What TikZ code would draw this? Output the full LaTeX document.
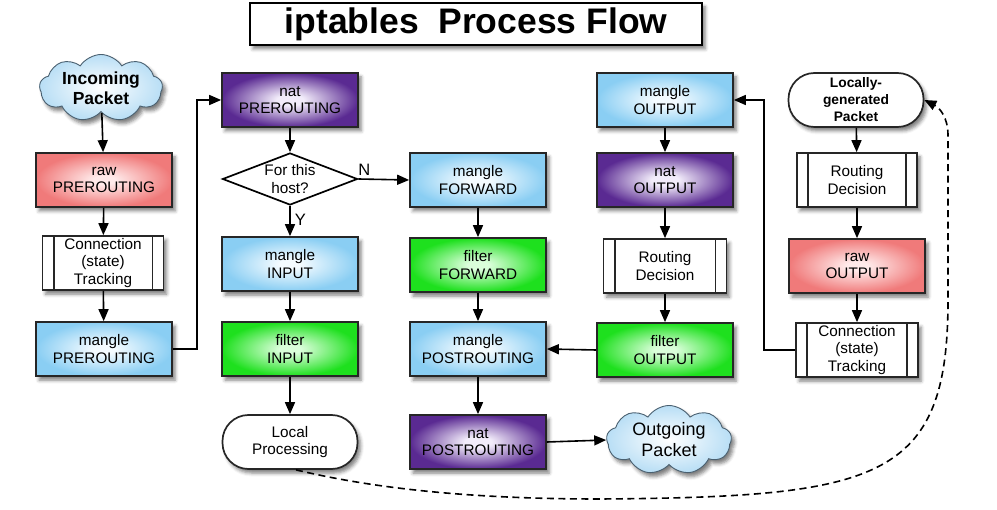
\documentclass[tikz,border=0pt]{standalone}
\usepackage{fontspec}
\setmainfont{Liberation Sans}
\usetikzlibrary{arrows.meta,shapes.geometric,shapes.symbols,shadows.blur,calc}

% chain colours: saturated rim, pale centre
\definecolor{rawedge}{HTML}{F07A7A}
\definecolor{rawmid}{HTML}{FFEAEA}
\definecolor{mangleedge}{HTML}{8ACEF3}
\definecolor{manglemid}{HTML}{F4FBFF}
\definecolor{filteredge}{HTML}{1EE01E}
\definecolor{filtermid}{HTML}{DAFEDA}
\definecolor{natedge}{HTML}{5A2A92}
\definecolor{natmid}{HTML}{F2ECFA}
\definecolor{cloudedge}{HTML}{B8DEF5}
\definecolor{cloudline}{HTML}{4A6070}

% radial glow with a pale plateau in the middle
\pgfdeclareradialshading{natglow}{\pgfpoint{0bp}{0bp}}{color(0bp)=(natmid); color(5bp)=(natmid); color(25bp)=(natedge); color(50bp)=(natedge)}
\pgfdeclareradialshading{rawglow}{\pgfpoint{0bp}{0bp}}{color(0bp)=(rawmid); color(4bp)=(rawmid); color(25bp)=(rawedge); color(50bp)=(rawedge)}
\pgfdeclareradialshading{mangleglow}{\pgfpoint{0bp}{0bp}}{color(0bp)=(manglemid); color(4bp)=(manglemid); color(25bp)=(mangleedge); color(50bp)=(mangleedge)}
\pgfdeclareradialshading{filterglow}{\pgfpoint{0bp}{0bp}}{color(0bp)=(filtermid); color(4bp)=(filtermid); color(25bp)=(filteredge); color(50bp)=(filteredge)}

\tikzset{
  softshadow/.style={blur shadow={shadow xshift=3pt, shadow yshift=-4pt,
      shadow blur radius=3.5pt, shadow opacity=50}},
  txt/.style={font=\fontsize{15.3}{17.5}\selectfont, align=center, inner sep=0pt},
  tablebox/.style={txt, draw=black!85, line width=1.7pt, minimum width=136pt,
      minimum height=54pt, softshadow},
  rawbox/.style={tablebox, shading=rawglow},
  manglebox/.style={tablebox, shading=mangleglow},
  filterbox/.style={tablebox, shading=filterglow},
  natbox/.style={tablebox, shading=natglow},
  procbox/.style={txt, draw=black!85, fill=white, line width=1.7pt,
      minimum width=122pt, minimum height=54pt, softshadow},
  stadium/.style={txt, draw=black!85, fill=white, line width=1.7pt,
      minimum width=135pt, minimum height=54pt, rounded corners=26pt, softshadow},
  decision/.style={diamond, draw=black, fill=white, line width=1.7pt,
      minimum width=135pt, minimum height=52pt, inner sep=0pt},
  packetcloud/.style={cloud, cloud puffs=9, cloud puff arc=115, cloud ignores aspect,
      draw=cloudline, line width=0.9pt, inner color=white, outer color=cloudedge,
      inner sep=0pt, softshadow},
  flow/.style={-{Triangle[length=12pt,width=10pt]}, line width=1.6pt},
  loopback/.style={-{Triangle[length=12pt,width=10pt]}, line width=1.6pt,
      dash pattern=on 7pt off 4.5pt},
}

\begin{document}
\begin{tikzpicture}[x=1pt, y=-1pt]
\useasboundingbox (0,0) rectangle (997,510);

% title
\node[draw=black, line width=1.8pt, fill=white, minimum width=452pt, minimum height=42pt,
      inner sep=0pt, softshadow, font=\bfseries\fontsize{35.5}{38}\selectfont]
  (title) at (476,24) {iptables\ \ Process Flow};

% incoming traffic column
\node[packetcloud, minimum width=123pt, minimum height=67pt] (inc) at (101,88) {};
\node[txt, font=\bfseries\fontsize{17.5}{20}\selectfont] (inctext) at (inc) {Incoming\\Packet};
\node[rawbox] (rawpre) at (104,180) {raw\\PREROUTING};
\node[procbox, minimum width=121pt] (ctl) at (103,263) {Connection\\(state)\\Tracking};
\node[manglebox] (mpre) at (104,349) {mangle\\PREROUTING};

% local input column
\node[natbox] (natpre) at (290,100) {nat\\PREROUTING};
\node[decision] (host) at (290,179) {};
\node[txt] (hosttext) at (host) {For this\\host?};
\node[manglebox] (minput) at (290,264) {mangle\\INPUT};
\node[filterbox] (finput) at (290,349) {filter\\INPUT};
\node[stadium] (lp) at (290,442) {Local\\Processing};

% forward column
\node[manglebox] (mfwd) at (478,180) {mangle\\FORWARD};
\node[filterbox] (ffwd) at (478,265) {filter\\FORWARD};
\node[manglebox] (mpost) at (478,349) {mangle\\POSTROUTING};
\node[natbox] (npost) at (478,442) {nat\\POSTROUTING};
\node[packetcloud, minimum width=125pt, minimum height=69pt] (outp) at (669,440) {};
\node[txt, font=\fontsize{18}{21}\selectfont] (outtext) at (outp) {Outgoing\\Packet};

% local output column
\node[manglebox] (mout) at (665,100) {mangle\\OUTPUT};
\node[natbox] (nout) at (665,180) {nat\\OUTPUT};
\node[procbox, minimum width=123pt] (rdmid) at (665,266) {Routing\\Decision};
\node[filterbox] (fout) at (665,350) {filter\\OUTPUT};

% locally generated column
\node[stadium, font=\bfseries\fontsize{13.8}{17}\selectfont] (lgp) at (856,100)
  {Locally-\\generated\\Packet};
\node[procbox, minimum width=120pt] (rdr) at (857,180) {Routing\\Decision};
\node[rawbox] (rawout) at (857,266) {raw\\OUTPUT};
\node[procbox] (ctr) at (857,350) {Connection\\(state)\\Tracking};

% side bars of the process boxes
\foreach \n in {ctl,rdmid,rdr,ctr}{
  \draw[line width=1.7pt, black!85]
    ([xshift=12pt]\n.north west) -- ([xshift=12pt]\n.south west)
    ([xshift=-12pt]\n.north east) -- ([xshift=-12pt]\n.south east);
}

% connectors
\draw[flow] (inc) -- (rawpre);
\draw[flow] (rawpre) -- (ctl);
\draw[flow] (ctl) -- (mpre);
\draw[flow] (mpre.east) -- ([xshift=24pt]mpre.east) |- (natpre.west);
\draw[flow] (natpre) -- (host);
\draw[flow] (host.east) -- node[txt, font=\fontsize{16.5}{18}\selectfont, pos=0.12, above=3pt] (nlab) {N} (mfwd.west);
\draw[flow] (host.south) -- node[txt, font=\fontsize{16.5}{18}\selectfont, pos=0.45, right=4pt] (ylab) {Y} (minput.north);
\draw[flow] (minput) -- (finput);
\draw[flow] (finput) -- (lp);
\draw[flow] (mfwd) -- (ffwd);
\draw[flow] (ffwd) -- (mpost);
\draw[flow] (mpost) -- (npost);
\draw[flow] (npost.east) -- (outp.west);
\draw[flow] (mout) -- (nout);
\draw[flow] (nout) -- (rdmid);
\draw[flow] (rdmid) -- (fout);
\draw[flow] (fout.west) -- (mpost.east);
\draw[flow] (lgp) -- (rdr);
\draw[flow] (rdr) -- (rawout);
\draw[flow] (rawout) -- (ctr);
\draw[flow] (ctr.west) -- ([xshift=-31pt]ctr.west) |- (mout.east);

% locally processed packets re-enter as locally generated ones
\draw[loopback] ([xshift=6pt]lp.south)
  .. controls (380,490) and (480,499) .. (600,499)
  .. controls (880,497) and (948,480) .. (948,300)
  -- (948,135)
  .. controls (948,118) and (940,108) .. (lgp.east);
\end{tikzpicture}
\end{document}
